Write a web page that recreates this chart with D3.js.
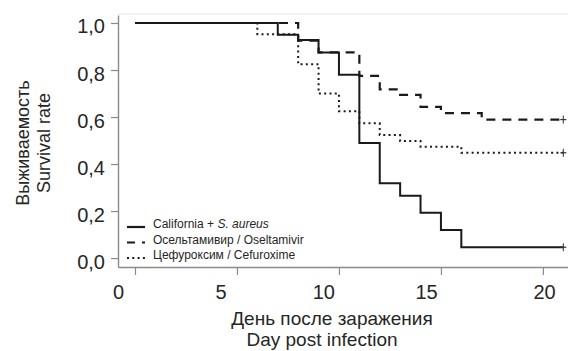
<!DOCTYPE html>
<html>
<head>
<meta charset="utf-8">
<script src="https://cdn.jsdelivr.net/npm/d3@7"></script>
<style>
  body { margin: 0; background: #fff; }
  svg { display: block; }
  text { font-family: "Liberation Sans Narrow", "Arial Narrow", "Liberation Sans", sans-serif; fill: #262626; }
</style>
</head>
<body>
<svg id="chart"></svg>
<script>
// Kaplan-Meier steps (day of change -> survival after it)
const californiaDays = [0, 7, 8, 9, 10, 11, 12, 13, 14, 15, 16, 21];
const californiaSurv = [1.0, 0.95, 0.928, 0.875, 0.78, 0.49, 0.318, 0.265, 0.193, 0.119, 0.046, 0.046];

const oseltamivirDays = [0, 8, 9, 11, 12, 13, 14, 15, 17, 21];
const oseltamivirSurv = [1.0, 0.925, 0.875, 0.775, 0.718, 0.694, 0.643, 0.617, 0.589, 0.589];

const cefuroximeDays = [0, 6, 8, 9, 10, 11, 12, 13, 14, 16, 21];
const cefuroximeSurv = [1.0, 0.952, 0.825, 0.70, 0.625, 0.573, 0.523, 0.498, 0.474, 0.448, 0.448];

const xTicks = [0, 5, 10, 15, 20];
const yTicks = [0, 0.2, 0.4, 0.6, 0.8, 1.0];
const legendLabels = ['California + ', 'Осельтамивир / Oseltamivir', 'Цефуроксим / Cefuroxime'];

const width = 568, height = 351;
const plotLeft = 118, plotTop = 15, plotRight = 568, plotBottom = 267;

const svg = d3.select('#chart').attr('width', width).attr('height', height);

const x = d3.scaleLinear().domain([-0.833, 21.23]).range([plotLeft, plotRight]);
const y = d3.scaleLinear().domain([-0.038, 1.034]).range([plotBottom, plotTop]);
// tick labels in the original sit a bit left of their ticks
const xLabel = d3.scaleLinear().domain([0, 15, 20]).range([118, 426, 544]);

// faint top frame line
svg.append('line')
  .attr('x1', plotLeft).attr('x2', plotRight)
  .attr('y1', plotTop - 1).attr('y2', plotTop - 1)
  .attr('stroke', '#e6e6e6').attr('stroke-width', 1);

const yAxis = svg.append('g')
  .attr('transform', `translate(${plotLeft},0)`)
  .call(d3.axisLeft(y).tickValues(yTicks).tickSize(7).tickSizeOuter(0).tickPadding(6)
    .tickFormat(d => d3.format('.1f')(d).replace('.', ',')));

const xAxis = svg.append('g')
  .attr('transform', `translate(0,${plotBottom})`)
  .call(d3.axisBottom(x).tickValues(xTicks).tickSize(8).tickSizeOuter(0).tickFormat(d3.format('d')));

[yAxis, xAxis].forEach(ax => {
  ax.select('.domain').attr('stroke', '#8a8a8a').attr('stroke-width', 1.4);
  ax.selectAll('.tick line').attr('stroke', '#8a8a8a').attr('stroke-width', 1.2);
  ax.selectAll('.tick text').attr('font-size', 20).attr('fill', '#262626')
    .style('font-family', '"Liberation Sans Narrow", "Arial Narrow", sans-serif');
});
yAxis.selectAll('.tick text').attr('dy', '0.5em');
xAxis.selectAll('.tick text').attr('x', d => xLabel(d) - x(d)).attr('y', 18);

const line = d3.line()
  .x(d => x(d[0]))
  .y(d => y(d[1]))
  .curve(d3.curveStepAfter);

const series = [
  { days: californiaDays, surv: californiaSurv, dash: null, w: 2 },
  { days: oseltamivirDays, surv: oseltamivirSurv, dash: '9,7', w: 2.2 },
  { days: cefuroximeDays, surv: cefuroximeSurv, dash: '2,3.3', w: 2 }
];

series.forEach(s => {
  const pts = d3.zip(s.days, s.surv);
  svg.append('path')
    .datum(pts)
    .attr('d', line)
    .attr('fill', 'none')
    .attr('stroke', '#1a1a1a')
    .attr('stroke-width', s.w)
    .attr('stroke-dasharray', s.dash);

  // censor mark at the end
  const last = pts[pts.length - 1];
  svg.append('line')
    .attr('x1', x(last[0])).attr('x2', x(last[0]))
    .attr('y1', y(last[1]) - 4).attr('y2', y(last[1]) + 4)
    .attr('stroke', '#333').attr('stroke-width', 1);
  svg.append('line')
    .attr('x1', x(last[0]) - 3).attr('x2', x(last[0]) + 3)
    .attr('y1', y(last[1])).attr('y2', y(last[1]))
    .attr('stroke', '#333').attr('stroke-width', 1.2);
});

// legend
const legend = svg.append('g').attr('transform', 'translate(127,224)');
series.forEach((s, i) => {
  const g = legend.append('g').attr('transform', `translate(0,${i * 15.5})`);
  g.append('line')
    .attr('x1', 0).attr('x2', 18).attr('y1', 3).attr('y2', 3)
    .attr('stroke', '#1a1a1a').attr('stroke-width', 2.2)
    .attr('stroke-dasharray', i === 1 ? '8,7' : s.dash);
  const t = g.append('text').attr('x', 26).attr('y', 4).attr('font-size', 12).text(legendLabels[i]);
  if (i === 0) t.append('tspan').attr('font-style', 'italic').text('S. aureus');
});

// axis titles
svg.append('text').attr('x', 332).attr('y', 325).attr('text-anchor', 'middle')
  .attr('font-size', 19).text('День после заражения');
svg.append('text').attr('x', 322).attr('y', 346).attr('text-anchor', 'middle')
  .attr('font-size', 19).text('Day post infection');

svg.append('text').attr('transform', 'translate(29,143) rotate(-90)').attr('text-anchor', 'middle')
  .attr('font-size', 18).text('Выживаемость');
svg.append('text').attr('transform', 'translate(50,143) rotate(-90)').attr('text-anchor', 'middle')
  .attr('font-size', 18).text('Survival rate');
</script>
</body>
</html>
